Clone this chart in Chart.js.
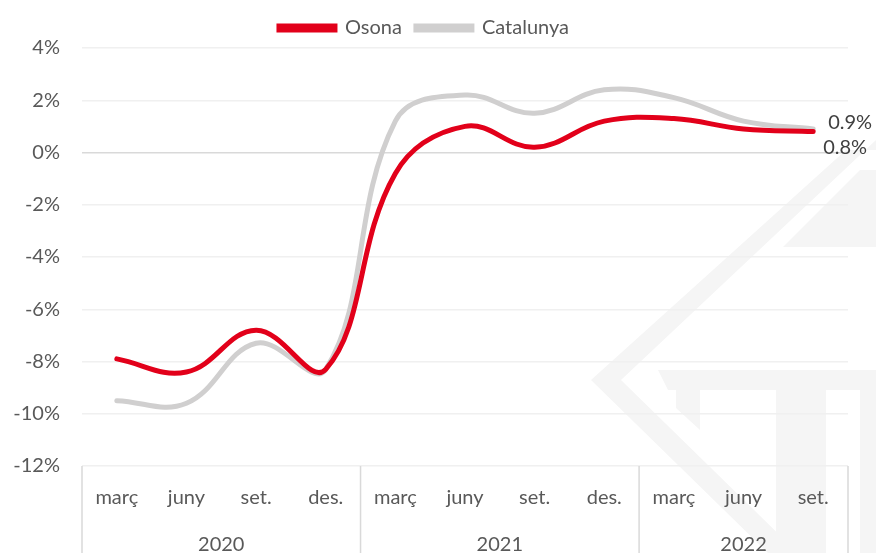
<!DOCTYPE html>
<html>
<head>
<meta charset="utf-8">
<script src="https://cdn.jsdelivr.net/npm/chart.js@4"></script>
<style>
    body { margin: 0; background: #fff; }
    #wrap { width: 876px; height: 553px; }
</style>
</head>
<body>
<div id="wrap"><canvas id="chart" width="876" height="553"></canvas></div>
<script>
// --- Data ---
const months = ['març', 'juny', 'set.', 'des.', 'març', 'juny', 'set.', 'des.', 'març', 'juny', 'set.'];
const years = ['2020', '2021', '2022'];
const yearSizes = [4, 4, 3];
const osona = [-7.9, -8.4, -6.8, -8.3, -0.8, 1.0, 0.2, 1.2, 1.3, 0.9, 0.8];
const catalunya = [-9.5, -9.6, -7.3, -8.3, 1.2, 2.2, 1.5, 2.4, 2.1, 1.2, 0.9];
const endLabels = ['0.8%', '0.9%'];

const FONT = 'Lato, "Open Sans", sans-serif';
const FSIZE = 20;
const TEXT = '#595959';
const LINE = '#d9d9d9';

// faint logo in the background
const watermark = {
    id: 'watermark',
    beforeDraw(chart) {
        const ctx = chart.ctx;
        ctx.save();
        ctx.fillStyle = '#f5f5f5';
        // chevron band
        ctx.beginPath();
        ctx.moveTo(846, 150);
        ctx.lineTo(876, 150);
        ctx.lineTo(876, 140);
        ctx.lineTo(621, 380);
        ctx.lineTo(798, 553);
        ctx.lineTo(768, 553);
        ctx.lineTo(591, 380);
        ctx.closePath();
        ctx.fill();
        // top-right wedge
        ctx.beginPath();
        ctx.moveTo(783, 247);
        ctx.lineTo(860, 170);
        ctx.lineTo(876, 170);
        ctx.lineTo(876, 247);
        ctx.closePath();
        ctx.fill();
        // T shape
        ctx.beginPath();
        ctx.moveTo(658, 370);
        ctx.lineTo(876, 370);
        ctx.lineTo(876, 553);
        ctx.lineTo(860, 553);
        ctx.lineTo(860, 390);
        ctx.lineTo(826, 390);
        ctx.lineTo(826, 553);
        ctx.lineTo(776, 553);
        ctx.lineTo(776, 390);
        ctx.lineTo(700, 390);
        ctx.lineTo(700, 430);
        ctx.lineTo(676, 408);
        ctx.lineTo(676, 390);
        ctx.lineTo(668, 390);
        ctx.closePath();
        ctx.fill();
        ctx.restore();
    }
};

// year groups and separators under the month axis
const yearAxis = {
    id: 'yearAxis',
    afterDraw(chart) {
        const ctx = chart.ctx;
        const x = chart.scales.x;
        const area = chart.chartArea;
        const bounds = [x.left];
        let idx = 0;
        yearSizes.forEach((n, i) => {
            idx += n;
            if (i < yearSizes.length - 1) {
                bounds.push((x.getPixelForValue(idx - 1) + x.getPixelForValue(idx)) / 2);
            }
        });
        bounds.push(x.right);
        ctx.save();
        ctx.strokeStyle = LINE;
        ctx.lineWidth = 1.5;
        bounds.forEach(b => {
            ctx.beginPath();
            ctx.moveTo(b, area.bottom);
            ctx.lineTo(b, chart.height);
            ctx.stroke();
        });
        ctx.fillStyle = TEXT;
        ctx.font = FSIZE + 'px ' + FONT;
        ctx.textAlign = 'center';
        ctx.textBaseline = 'middle';
        years.forEach((y, i) => {
            ctx.fillText(y, (bounds[i] + bounds[i + 1]) / 2, 545);
        });
        ctx.restore();
    }
};

// value labels at the end of each line
const endValues = {
    id: 'endValues',
    afterDatasetsDraw(chart) {
        const ctx = chart.ctx;
        ctx.save();
        ctx.fillStyle = '#404040';
        ctx.font = FSIZE + 'px ' + FONT;
        ctx.textBaseline = 'middle';
        ctx.textAlign = 'left';
        chart.data.datasets.forEach((ds, i) => {
            const meta = chart.getDatasetMeta(i);
            const pt = meta.data[meta.data.length - 1];
            const dy = i === 0 ? 16 : -6;
            ctx.fillText(endLabels[i], pt.x + (i === 0 ? 10 : 15), pt.y + dy);
        });
        ctx.restore();
    }
};

new Chart(document.getElementById('chart'), {
    type: 'line',
    data: {
        labels: months,
        datasets: [
            {
                label: 'Osona',
                data: osona,
                borderColor: '#e2001a',
                backgroundColor: '#e2001a',
                borderWidth: 5,
                tension: 0.4,
                pointRadius: 0,
                borderCapStyle: 'round'
            },
            {
                label: 'Catalunya',
                data: catalunya,
                borderColor: '#d0cfcf',
                backgroundColor: '#d0cfcf',
                borderWidth: 5,
                tension: 0.4,
                pointRadius: 0,
                borderCapStyle: 'round',
                order: 1
            }
        ]
    },
    options: {
        responsive: false,
        animation: false,
        layout: { padding: { top: 4, right: 28, left: 0, bottom: 0 } },
        plugins: {
            legend: {
                position: 'top',
                labels: {
                    boxWidth: 56,
                    boxHeight: 4,
                    color: TEXT,
                    font: { family: FONT, size: FSIZE },
                    padding: 14
                }
            },
            tooltip: { enabled: false }
        },
        scales: {
            x: {
                offset: true,
                grid: { display: false, drawTicks: false },
                border: { display: false },
                ticks: {
                    color: TEXT,
                    font: { family: FONT, size: FSIZE },
                    padding: 20,
                    maxRotation: 0,
                    autoSkip: false
                },
                afterFit(scale) { scale.height = 87; }
            },
            y: {
                min: -12,
                max: 4,
                ticks: {
                    stepSize: 2,
                    color: TEXT,
                    font: { family: FONT, size: FSIZE },
                    padding: 22,
                    callback: v => v + '%'
                },
                grid: {
                    drawTicks: false,
                    lineWidth: 1.5,
                    color: ctx => ctx.tick && ctx.tick.value === 0 ? LINE : '#f0f0f0'
                },
                border: { display: false },
                afterFit(scale) { scale.width = 82; }
            }
        }
    },
    plugins: [watermark, yearAxis, endValues]
});
</script>
</body>
</html>
